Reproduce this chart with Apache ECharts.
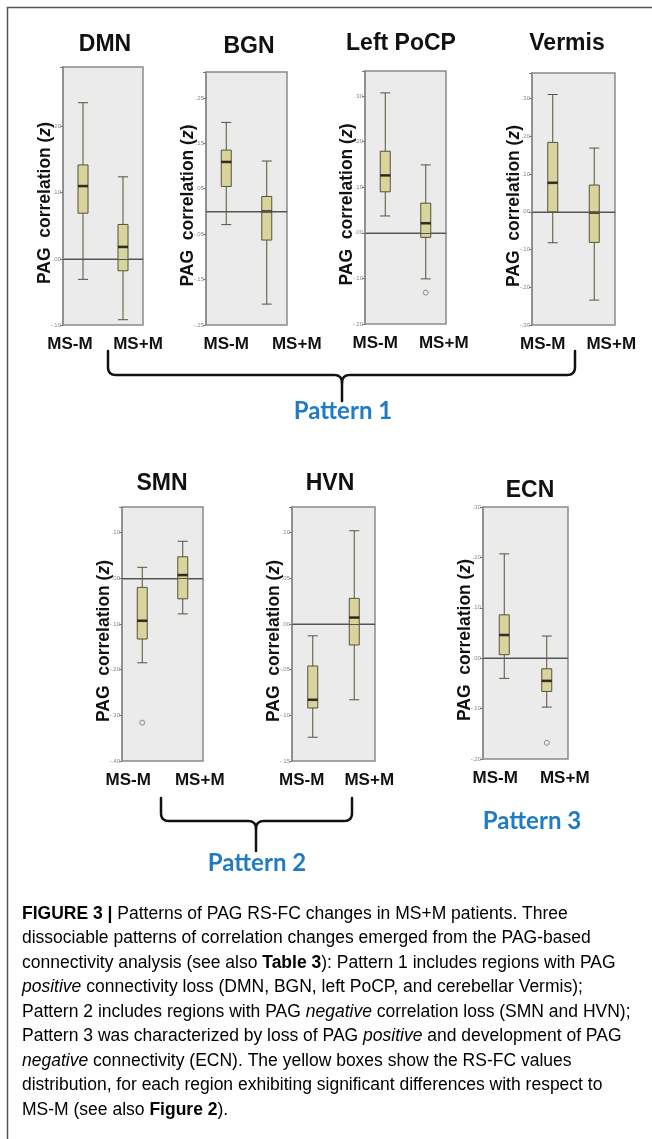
<!DOCTYPE html>
<html>
<head>
<meta charset="utf-8">
<script src="https://cdn.jsdelivr.net/npm/echarts@6/dist/echarts.min.js"></script>
<style>
html,body{margin:0;padding:0;background:#fff;}
#chart{width:652px;height:1139px;}
</style>
</head>
<body>
<div id="chart"></div>
<script>
// ---------------- DATA ----------------
const categories = ['MS-M', 'MS+M'];
const regionNames = ['DMN', 'BGN', 'Left PoCP', 'Vermis', 'SMN', 'HVN', 'ECN'];

// box statistics per group: [lower whisker, Q1, median, Q3, upper whisker]
const dmnBoxes    = [[-0.031, 0.069, 0.110, 0.142, 0.236], [-0.092, -0.018, 0.018, 0.052, 0.124]];
const bgnBoxes    = [[-0.029, 0.055, 0.109, 0.135, 0.196], [-0.204, -0.063, 0.000, 0.033, 0.111]];
const pocpBoxes   = [[0.037, 0.090, 0.126, 0.179, 0.307], [-0.101, -0.010, 0.021, 0.065, 0.149]];
const vermisBoxes = [[-0.082, 0.000, 0.077, 0.184, 0.311], [-0.234, -0.081, -0.002, 0.071, 0.169]];
const smnBoxes    = [[-0.185, -0.133, -0.093, -0.020, 0.024], [-0.078, -0.045, 0.007, 0.047, 0.081]];
const hvnBoxes    = [[-0.124, -0.092, -0.083, -0.046, -0.013], [-0.083, -0.023, 0.007, 0.028, 0.102]];
const ecnBoxes    = [[-0.040, 0.007, 0.046, 0.086, 0.207], [-0.097, -0.066, -0.045, -0.021, 0.044]];

// outliers: [category, value]
const dmnOutliers = [];
const bgnOutliers = [];
const pocpOutliers = [['MS+M', -0.131]];
const vermisOutliers = [];
const smnOutliers = [['MS-M', -0.316]];
const hvnOutliers = [];
const ecnOutliers = [['MS+M', -0.168]];

// y-axis tick labels
const dmnTicks    = [-0.10, 0.00, 0.10, 0.20];
const bgnTicks    = [-0.25, -0.15, -0.05, 0.05, 0.15, 0.25];
const pocpTicks   = [-0.20, -0.10, 0.00, 0.10, 0.20, 0.30];
const vermisTicks = [-0.30, -0.20, -0.10, 0.00, 0.10, 0.20, 0.30];
const smnTicks    = [-0.40, -0.30, -0.20, -0.10, 0.00, 0.10];
const hvnTicks    = [-0.15, -0.10, -0.05, 0.00, 0.05, 0.10];
const ecnTicks    = [-0.20, -0.10, 0.00, 0.10, 0.20, 0.30];

const patternLabels = ['Pattern 1', 'Pattern 2', 'Pattern 3'];

// ---------------- LAYOUT (positions / styles only) ----------------
const panels = [
  {boxes: dmnBoxes,    outliers: dmnOutliers,    ticks: dmnTicks,    max: 0.290, grid: {left: 63,  top: 67,  width: 80, height: 258}, title: [105, 45], sl: 13, sr: 15},
  {boxes: bgnBoxes,    outliers: bgnOutliers,    ticks: bgnTicks,    max: 0.307, grid: {left: 206, top: 72,  width: 81, height: 253}, title: [249, 47], sl: 0,  sr: 30},
  {boxes: pocpBoxes,   outliers: pocpOutliers,   ticks: pocpTicks,   max: 0.355, grid: {left: 365, top: 71,  width: 81, height: 253}, title: [401, 44], sl: 10, sr: 18},
  {boxes: vermisBoxes, outliers: vermisOutliers, ticks: vermisTicks, max: 0.368, grid: {left: 532, top: 73,  width: 83, height: 252}, title: [567, 44], sl: 10, sr: 17},
  {boxes: smnBoxes,    outliers: smnOutliers,    ticks: smnTicks,    max: 0.156, grid: {left: 122, top: 507, width: 81, height: 254}, title: [162, 484], sl: 14, sr: 17},
  {boxes: hvnBoxes,    outliers: hvnOutliers,    ticks: hvnTicks,    max: 0.128, grid: {left: 292, top: 507, width: 83, height: 254}, title: [330, 484], sl: 11, sr: 15},
  {boxes: ecnBoxes,    outliers: ecnOutliers,    ticks: ecnTicks,    max: 0.300, grid: {left: 483, top: 507, width: 85, height: 252}, title: [530, 491], sl: 9,  sr: 18}
];

const FONT = '"Liberation Sans", Arial, Helvetica, sans-serif';

function tickFormatter(ticks) {
  return function (v) {
    const hit = ticks.find(t => Math.abs(t - v) < 1e-6);
    if (hit === undefined) return '';
    const s = Math.abs(hit).toFixed(2).replace(/^0/, '');
    return (hit < -1e-9 ? '-' : '') + s;
  };
}

const grids = [], xAxes = [], yAxes = [], series = [];
panels.forEach((p, i) => {
  grids.push(Object.assign({
    show: true, backgroundColor: '#ebebeb', borderColor: '#8a8a8a', borderWidth: 1.5, containLabel: false
  }, p.grid));

  xAxes.push({
    type: 'category', gridIndex: i, data: categories, boundaryGap: true,
    axisLine: {lineStyle: {color: '#8a8a8a', width: 1.5}},
    axisTick: {alignWithLabel: true, length: 5, lineStyle: {color: '#555'}},
    axisLabel: {
      interval: 0, margin: 11, hideOverlap: false,
      formatter: v => (v === categories[0] ? '{l|' + v + '}' : '{r|' + v + '}'),
      rich: {
        l: {fontFamily: FONT, fontSize: 17, fontWeight: 'bold', color: '#111', padding: [0, 2 * p.sl, 0, 0]},
        r: {fontFamily: FONT, fontSize: 17, fontWeight: 'bold', color: '#111', padding: [0, 0, 0, 2 * p.sr]}
      }
    },
    splitLine: {show: false}
  });

  yAxes.push({
    type: 'value', gridIndex: i,
    min: p.ticks[0], max: p.max,
    interval: Math.round((p.ticks[1] - p.ticks[0]) * 1000) / 1000,
    axisLine: {show: true, lineStyle: {color: '#8a8a8a', width: 1.5}},
    axisTick: {show: true, length: 3, lineStyle: {color: '#777'}},
    axisLabel: {fontSize: 6, color: '#888', margin: 2, formatter: tickFormatter(p.ticks), fontFamily: FONT},
    splitLine: {show: false},
    name: '{a|PAG  correlation (}{z|z}{a|)}',
    nameLocation: 'middle', nameRotate: 90, nameGap: 9, nameMoveOverlap: false,
    nameTextStyle: {
      padding: [0, 14, 0, 0],
      rich: {
        a: {fontFamily: FONT, fontSize: 17.5, fontWeight: 'bold', color: '#111'},
        z: {fontFamily: FONT, fontSize: 17.5, fontWeight: 'bold', fontStyle: 'italic', color: '#111'}
      }
    }
  });

  series.push({
    type: 'boxplot', name: regionNames[i], xAxisIndex: i, yAxisIndex: i,
    data: p.boxes, boxWidth: [10, 10],
    itemStyle: {color: '#d8d49c', borderColor: '#55533a', borderWidth: 1},
    emphasis: {disabled: true},
    markLine: {
      silent: true, symbol: ['none', 'none'], label: {show: false},
      lineStyle: {color: '#555', width: 1, type: 'solid'},
      data: [{yAxis: 0}], animation: false
    },
    z: 2
  });
  series.push({
    type: 'scatter', name: regionNames[i] + ' median', xAxisIndex: i, yAxisIndex: i,
    data: p.boxes.map((b, j) => [categories[j], b[2]]),
    symbol: 'rect', symbolSize: [10, 2.6],
    itemStyle: {color: '#151515'}, z: 4, silent: true
  });
  if (p.outliers.length) {
    series.push({
      type: 'scatter', name: regionNames[i] + ' outliers', xAxisIndex: i, yAxisIndex: i,
      data: p.outliers,
      symbol: 'circle', symbolSize: 5,
      itemStyle: {color: 'rgba(0,0,0,0)', borderColor: '#777', borderWidth: 1}, z: 4, silent: true
    });
  }
});

// ---------------- graphic annotations ----------------
const graphics = [];
graphics.push({type: 'polyline', shape: {points: [[7.5, 1139], [7.5, 7.5], [652, 7.5]]}, style: {stroke: '#555', lineWidth: 1.5, fill: null}, silent: true});
panels.forEach((p, i) => {
  graphics.push({type: 'text', x: p.title[0], y: p.title[1],
    style: {text: regionNames[i], font: 'bold 23px ' + FONT, fill: '#111', align: 'center', verticalAlign: 'middle'}});
});

// curly bracket as polylines (rounded corners sampled)
function corner(pts, x0, y0, cx, cy, x1, y1) {
  for (let t = 0; t <= 1.0001; t += 0.125) {
    const a = (1 - t) * (1 - t), b = 2 * (1 - t) * t, c = t * t;
    pts.push([a * x0 + b * cx + c * x1, a * y0 + b * cy + c * y1]);
  }
}
function bracket(xl, xr, yTop, yH, xm, yBottom) {
  const r = 8;
  const left = [[xl, yTop]];
  corner(left, xl, yH - r, xl, yH, xl + r, yH);
  corner(left, xm - r, yH, xm, yH, xm, yH + r);
  left.push([xm, yBottom]);
  const right = [[xr, yTop]];
  corner(right, xr, yH - r, xr, yH, xr - r, yH);
  corner(right, xm + r, yH, xm, yH, xm, yH + r);
  return [left, right];
}
[bracket(108, 575, 351, 375, 342, 401), bracket(161, 352, 798, 821, 256, 851)].forEach(br => {
  br.forEach(pts => graphics.push({type: 'polyline', shape: {points: pts},
    style: {stroke: '#111', lineWidth: 2.5, fill: null, lineCap: 'round', lineJoin: 'round'}, silent: true}));
});

const patternPos = [[343, 411], [257, 863], [532, 821]];
patternLabels.forEach((t, k) => {
  graphics.push({type: 'text', x: patternPos[k][0], y: patternPos[k][1],
    style: {text: t, font: 'bold 24px Lato, "Open Sans", sans-serif', fill: '#1f7bc4', align: 'center', verticalAlign: 'middle'}});
});

const captionLines = [
  '{b|FIGURE 3 |}{n| Patterns of PAG RS-FC changes in MS+M patients. Three}',
  '{n|dissociable patterns of correlation changes emerged from the PAG-based}',
  '{n|connectivity analysis (see also }{b|Table 3}{n|): Pattern 1 includes regions with PAG}',
  '{i|positive}{n| connectivity loss (DMN, BGN, left PoCP, and cerebellar Vermis);}',
  '{n|Pattern 2 includes regions with PAG }{i|negative}{n| correlation loss (SMN and HVN);}',
  '{n|Pattern 3 was characterized by loss of PAG }{i|positive}{n| and development of PAG}',
  '{i|negative}{n| connectivity (ECN). The yellow boxes show the RS-FC values}',
  '{n|distribution, for each region exhibiting significant differences with respect to}',
  '{n|MS-M (see also }{b|Figure 2}{n|).}'
];
const CAP = 17.5;
const capRich = {
  n: {fontFamily: FONT, fontSize: CAP, color: '#333'},
  b: {fontFamily: FONT, fontSize: CAP, color: '#222', fontWeight: 'bold'},
  i: {fontFamily: FONT, fontSize: CAP, color: '#333', fontStyle: 'italic'}
};
captionLines.forEach((line, k) => {
  graphics.push({type: 'text', x: 22, y: 914 + k * 24.5,
    style: {text: line, rich: capRich, align: 'left', verticalAlign: 'middle'}});
});

const chart = echarts.init(document.getElementById('chart'), null, {renderer: 'canvas'});
chart.setOption({
  backgroundColor: '#fff',
  animation: false,
  grid: grids,
  xAxis: xAxes,
  yAxis: yAxes,
  series: series,
  graphic: graphics
});
</script>
</body>
</html>
